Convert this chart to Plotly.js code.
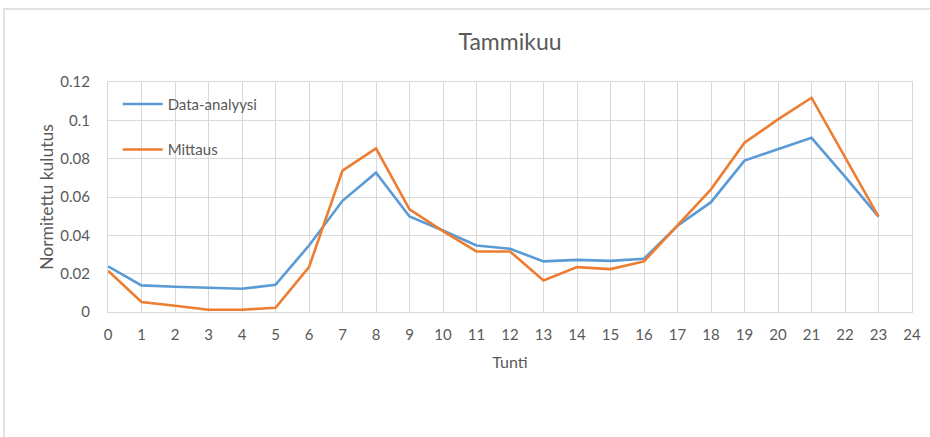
<!DOCTYPE html>
<html>
<head>
<meta charset="utf-8">
<script src="https://cdn.plot.ly/plotly-3.0.1.min.js"></script>
<style>
html,body{margin:0;padding:0;background:#fff;}
#chart{width:930px;height:437px;}
</style>
</head>
<body>
<div id="chart"></div>
<script>
var hours = [0,1,2,3,4,5,6,7,8,9,10,11,12,13,14,15,16,17,18,19,20,21,22,23];
var dataAnalyysi = [0.0238,0.0139,0.0132,0.0125,0.0121,0.0142,0.0347,0.0580,0.0727,0.0498,0.0425,0.0347,0.0330,0.0264,0.0272,0.0267,0.0278,0.0450,0.0573,0.0790,0.0851,0.0909,0.0706,0.0498];
var mittaus = [0.0215,0.0052,0.0033,0.0012,0.0012,0.0022,0.0234,0.0738,0.0854,0.0536,0.0422,0.0316,0.0316,0.0165,0.0234,0.0224,0.0264,0.0450,0.0640,0.0883,0.1005,0.1118,0.0807,0.0498];
var seriesNames = ["Data-analyysi","Mittaus"];
var xTickVals = [0,1,2,3,4,5,6,7,8,9,10,11,12,13,14,15,16,17,18,19,20,21,22,23,24];

var font = "Lato, 'Open Sans', sans-serif";
var txt = "#595959";
var grid = "#d9d9d9";

var traces = [
  {x: hours, y: dataAnalyysi, name: seriesNames[0], type: "scatter", mode: "lines",
   line: {color: "#5B9BD5", width: 2.6}, legendgroup: "a"},
  {x: hours, y: mittaus, name: seriesNames[1], type: "scatter", mode: "lines",
   line: {color: "#ED7D31", width: 2.6}, legendgroup: "b"}
];

var layout = {
  width: 930, height: 437,
  margin: {l: 108, r: 18, t: 82, b: 125},
  paper_bgcolor: "#fff", plot_bgcolor: "#fff",
  font: {family: font, color: txt, size: 15},
  title: {text: "Tammikuu", font: {family: font, size: 23, color: txt}, x: 0.5, xanchor: "center", y: 0.905, yanchor: "middle", xref: "paper"},
  xaxis: {
    range: [0, 24], tickvals: xTickVals, ticktext: xTickVals.map(String),
    showgrid: true, gridcolor: grid, gridwidth: 1,
    showline: true, linecolor: grid, linewidth: 1, mirror: true,
    zeroline: false, ticks: "", ticklabelstandoff: 9,
    tickfont: {family: font, size: 15, color: txt},
    title: {text: "Tunti", font: {family: font, size: 16, color: txt}, standoff: 14}
  },
  yaxis: {
    range: [0, 0.12], dtick: 0.02, tick0: 0,
    showgrid: true, gridcolor: grid, gridwidth: 1,
    showline: true, linecolor: grid, linewidth: 1, mirror: true,
    zeroline: false, ticks: "", ticklabelstandoff: 14,
    tickfont: {family: font, size: 15, color: txt},
    title: {text: "Normitettu kulutus", font: {family: font, size: 17.5, color: txt}, standoff: 2}
  },
  showlegend: true,
  legend: {x: 0.012, y: 0.975, xanchor: "left", yanchor: "top", bgcolor: "rgba(0,0,0,0)",
           font: {family: font, size: 15, color: txt}, tracegroupgap: 23, itemwidth: 40},
  shapes: [{type: "rect", xref: "paper", yref: "paper", x0: -0.1294, x1: 1.2, y0: -0.8, y1: 1.317,
            line: {color: grid, width: 1.5}, fillcolor: "rgba(0,0,0,0)", layer: "below"}]
};

Plotly.newPlot("chart", traces, layout, {displayModeBar: false, responsive: false});
</script>
</body>
</html>
